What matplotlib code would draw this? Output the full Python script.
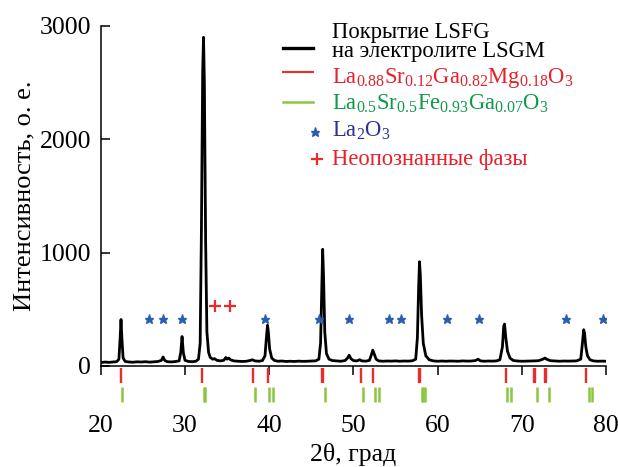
import matplotlib
matplotlib.use("Agg")
import matplotlib.pyplot as plt
from matplotlib.lines import Line2D

plt.rcParams["font.family"] = ["Liberation Serif", "DejaVu Serif"]
plt.rcParams["mathtext.fontset"] = "custom"
plt.rcParams["mathtext.rm"] = "Liberation Serif"
plt.rcParams["mathtext.it"] = "Liberation Serif:italic"

# Diffraction trace of the LSFG coating on the LSGM electrolyte (2θ, counts)
two_theta = [
    20.0, 20.5, 21.0, 21.5, 21.9, 22.15, 22.3, 22.4, 22.5, 22.65, 22.9, 23.3, 23.8,
    24.3, 24.8, 25.3, 25.8, 26.3, 26.8, 27.2, 27.4, 27.6, 27.9, 28.4, 28.9, 29.3,
    29.5, 29.65, 29.8, 30.0, 30.4, 30.9, 31.3, 31.6, 31.8, 31.95, 32.1, 32.2, 32.3,
    32.45, 32.6, 32.8, 33.0, 33.3, 33.5, 33.8, 34.2, 34.6, 34.85, 35.0, 35.2, 35.4,
    35.8, 36.3, 36.8, 37.3, 37.8, 38.0, 38.3, 38.8, 39.2, 39.5, 39.7, 39.8, 39.9,
    40.05, 40.3, 40.6, 41.0, 41.5, 42.0, 42.5, 43.0, 43.5, 44.0, 44.5, 45.0, 45.5,
    45.9, 46.1, 46.25, 46.35, 46.45, 46.6, 46.8, 47.1, 47.5, 48.0, 48.5, 49.0, 49.3,
    49.5, 49.7, 50.0, 50.4, 50.75, 51.0, 51.5, 51.9, 52.1, 52.3, 52.45, 52.7, 53.0,
    53.5, 54.0, 54.5, 55.0, 55.5, 56.0, 56.5, 57.0, 57.4, 57.6, 57.75, 57.85, 57.95,
    58.1, 58.3, 58.6, 59.0, 59.5, 60.0, 60.5, 61.0, 61.5, 62.0, 62.5, 63.0, 63.5,
    64.0, 64.5, 64.8, 65.1, 65.6, 66.0, 66.5, 67.0, 67.4, 67.7, 67.85, 67.95, 68.1,
    68.3, 68.6, 69.0, 69.5, 70.0, 70.5, 71.0, 71.5, 72.0, 72.5, 72.75, 73.0, 73.4,
    74.0, 74.5, 75.0, 75.5, 76.0, 76.5, 77.0, 77.2, 77.35, 77.45, 77.6, 77.8, 78.1,
    78.5, 79.0, 79.5, 80.0,
]
intensity = [
    30, 35, 32, 36, 38, 60, 250, 410, 250, 70, 40, 36, 33,
    37, 35, 38, 34, 37, 40, 50, 80, 48, 38, 36, 40, 45,
    120, 260, 120, 50, 40, 38, 42, 60, 200, 1200, 2600, 2900, 2500,
    1100, 300, 120, 75, 60, 65, 50, 45, 50, 75, 60, 70, 55,
    45, 42, 40, 42, 50, 55, 45, 42, 48, 90, 280, 360, 300,
    150, 70, 50, 42, 44, 40, 42, 40, 43, 41, 42, 44, 45,
    60, 200, 700, 1030, 800, 300, 110, 60, 48, 45, 42, 48, 70,
    95, 65, 48, 45, 55, 45, 43, 50, 90, 140, 110, 60, 45,
    42, 44, 43, 45, 42, 44, 43, 46, 60, 250, 700, 920, 800,
    450, 200, 90, 55, 45, 42, 44, 42, 44, 43, 42, 45, 43,
    44, 48, 60, 45, 42, 44, 43, 45, 55, 170, 350, 370, 250,
    130, 70, 48, 44, 42, 43, 44, 45, 47, 60, 70, 58, 47,
    44, 42, 44, 43, 44, 45, 60, 200, 320, 290, 170, 90, 55,
    45, 42, 43, 42,
]

# Reference reflections
lsgm_pos = [22.34, 32.0, 38.02, 39.8, 46.28, 46.38, 50.9, 52.35, 57.8, 57.9,
            68.1, 71.5, 71.6, 72.8, 72.9, 77.6]
lsfg_pos = [22.53, 32.3, 32.4, 38.3, 39.95, 40.47, 46.6, 51.16, 52.55, 53.0,
            58.1, 58.3, 58.5, 68.3, 68.7, 71.82, 73.25, 77.96, 78.35]

# Phase markers
la2o3_pos = [25.74, 27.40, 29.66, 39.56, 45.9, 49.45, 54.24, 55.71, 61.06, 64.9, 75.3, 79.66]
la2o3_y = [412] * len(la2o3_pos)
unknown_pos = [33.6, 35.3]
unknown_y = [532] * len(unknown_pos)

x_ticks = [20, 30, 40, 50, 60, 70, 80]
y_ticks = [0, 1000, 2000, 3000]

RED = "#ee2a2a"
GREEN = "#8cc63f"
BLUE = "#2a5db0"

W, H = 618, 467
fig = plt.figure(figsize=(W / 100, H / 100), dpi=100)


def fx(x):
    return x / W


def fy(y):
    return 1 - y / H


ax = fig.add_axes([fx(100.8), fy(366), fx(606) - fx(100.8), fy(26) - fy(366)])
ax.plot(two_theta, intensity, color="black", lw=2.0, solid_joinstyle="round")

ax.vlines(lsgm_pos, -20, -150, color=RED, lw=1.7, clip_on=False)
ax.vlines(lsfg_pos, -185, -318, color=GREEN, lw=1.8, clip_on=False)

ax.plot(la2o3_pos, la2o3_y, ls="none", marker="*", ms=6.5, color=BLUE, mec=BLUE)
ax.plot(unknown_pos, unknown_y, ls="none", marker="+", ms=8, mew=1.6, color=RED)

ax.set_xlim(20, 80)
ax.set_ylim(0, 3000)
ax.set_xticks(x_ticks)
ax.set_yticks(y_ticks)
ax.spines["top"].set_visible(False)
ax.spines["right"].set_visible(False)
for s in ("left", "bottom"):
    ax.spines[s].set_linewidth(1.1)
ax.tick_params(axis="x", direction="out", length=6.5, width=1.1, pad=29, labelsize=18.5)
ax.tick_params(axis="y", direction="in", length=6.5, width=1.1, pad=7, labelsize=18.5)

ax_h = fy(26) - fy(366)
ax.set_xlabel("2θ, град", fontsize=18.5)
ax.xaxis.set_label_coords(0.5, (fy(461) - fy(366)) / ax_h)
ax.xaxis.label.set_verticalalignment("baseline")
ax.set_ylabel("Интенсивность, о. е.", fontsize=19)
ax.yaxis.set_label_coords((fx(24) - fx(100.8)) / (fx(606) - fx(100.8)), 0.5)
ax.yaxis.label.set_verticalalignment("center")

# Legend
LEG_FS = 16.3
tx = fx(332)
fig.add_artist(Line2D([fx(283), fx(313)], [fy(48), fy(48)], color="black", lw=2.4))
fig.text(tx, fy(37.7), "Покрытие LSFG", fontsize=LEG_FS, va="baseline", color="black")
fig.text(tx, fy(57.3), "на электролите LSGM", fontsize=LEG_FS, va="baseline", color="black")

fig.add_artist(Line2D([fx(283), fx(313)], [fy(72), fy(72)], color=RED, lw=1.5))
fig.text(tx, fy(83.5),
         r"La$_{\mathrm{0.88}}$Sr$_{\mathrm{0.12}}$Ga$_{\mathrm{0.82}}$Mg$_{\mathrm{0.18}}$O$_{\mathrm{3}}$",
         fontsize=LEG_FS, va="baseline", color="#e8202a")

fig.add_artist(Line2D([fx(283), fx(313)], [fy(102), fy(102)], color=GREEN, lw=1.8))
fig.text(tx, fy(110),
         r"La$_{\mathrm{0.5}}$Sr$_{\mathrm{0.5}}$Fe$_{\mathrm{0.93}}$Ga$_{\mathrm{0.07}}$O$_{\mathrm{3}}$",
         fontsize=LEG_FS, va="baseline", color="#0d9a4a")

fig.add_artist(Line2D([fx(315)], [fy(131.7)], ls="none", marker="*", ms=6.5, color=BLUE))
fig.text(tx, fy(137), r"La$_{\mathrm{2}}$O$_{\mathrm{3}}$", fontsize=LEG_FS, va="baseline",
         color="#2e3192")

fig.add_artist(Line2D([fx(316.7)], [fy(159.3)], ls="none", marker="+", ms=8, mew=1.6, color=RED))
fig.text(tx, fy(165), "Неопознанные фазы", fontsize=LEG_FS, va="baseline", color="#e8202a")

fig.savefig("out.png", dpi=100)
